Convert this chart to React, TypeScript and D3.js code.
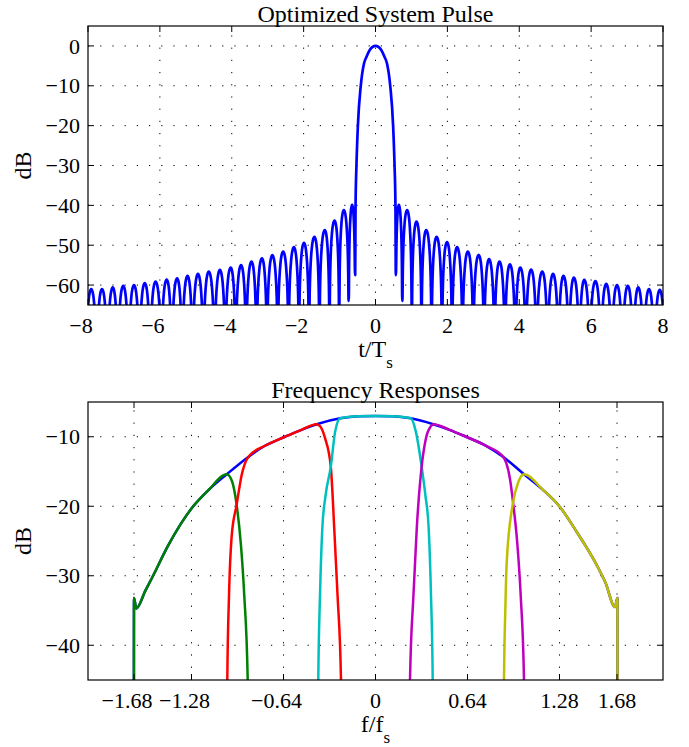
import { useEffect, useRef } from 'react'
import * as d3 from 'd3'

const WIDTH = 689
const HEIGHT = 747
const FONT = '"Liberation Serif", "Times New Roman", serif'

// ---- top panel: Optimized System Pulse ----
const pulseXTicks = [-8, -6, -4, -2, 0, 2, 4, 6, 8]
const pulseYTicks = [-60, -50, -40, -30, -20, -10, 0]
// main lobe, one side (mirrored for t < 0)
const mainLobeT = [0, 0.08, 0.16, 0.25, 0.32, 0.41, 0.49, 0.53, 0.555, 0.565]
const mainLobeDb = [0, -0.25, -1.0, -2.7, -4.4, -10, -20, -30, -40, -57.5]
// sidelobe peaks (|t|) and their levels on each side
const lobePeakT = [
  0.65, 0.88, 1.14, 1.41, 1.7, 1.99, 2.27, 2.57, 2.87, 3.16, 3.45, 3.74, 4.03,
  4.33, 4.64, 4.94, 5.23, 5.52, 5.81, 6.12, 6.42, 6.72, 7.02, 7.31, 7.61, 7.91,
]
const lobeLeftDb = [
  -39.9, -41.2, -43.8, -46.2, -47.9, -49.4, -50.5, -51.6, -52.5, -53.3, -54.1,
  -55.0, -55.6, -56.2, -56.6, -57.2, -57.7, -58.3, -58.6, -59.1, -59.5, -60.0,
  -60.2, -60.6, -61.0, -61.0,
]
const lobeRightDb = [
  -39.9, -41.2, -44.1, -46.2, -47.9, -49.2, -50.5, -51.6, -52.4, -53.5, -54.1,
  -54.8, -55.6, -56.1, -56.6, -57.2, -57.7, -58.1, -58.7, -59.0, -59.7, -60.0,
  -60.2, -60.6, -61.0, -61.2,
]
// nulls between lobes; only the first two are shallow enough to be seen
const nullT = [
  0.565, 0.745, 1.01, 1.28, 1.56, 1.85, 2.13, 2.42, 2.72, 3.02, 3.31, 3.6, 3.89,
  4.18, 4.48, 4.79, 5.09, 5.38, 5.67, 5.96, 6.27, 6.57, 6.87, 7.17, 7.46, 7.76,
  8.06,
]
const nullDb = [-57.5, -64.0]
const DEEP_NULL = -100
// shape of one sidelobe: level drop vs fraction of the way from peak to null
const lobeShapeU = [0, 0.3, 0.5, 0.7, 0.8, 0.9, 0.95, 0.98]
const lobeShapeDrop = [0, -1, -3, -6.9, -10.2, -16.1, -22.1, -30]

// ---- bottom panel: Frequency Responses ----
const freqXTicks = [-1.68, -1.28, -0.64, 0, 0.64, 1.28, 1.68]
const freqYTicks = [-40, -30, -20, -10]
// overall (blue) response
const envelopeF = [
  -1.681, -1.68, -1.664, -1.6, -1.557, -1.441, -1.279, -1.163, -1.035, -0.885,
  -0.769, -0.63, -0.515, -0.409, -0.245, -0.12, 0, 0.12, 0.245, 0.402, 0.515,
  0.63, 0.769, 0.889, 1.033, 1.163, 1.283, 1.4, 1.54, 1.6, 1.666, 1.683, 1.684,
]
const envelopeDb = [
  -60, -33.2, -34.7, -32.1, -30.4, -25.6, -20.3, -17.7, -15.4, -12.9, -11.3,
  -10.0, -9.0, -8.2, -7.35, -7.05, -7.0, -7.05, -7.35, -8.2, -9.0, -10.0, -11.3,
  -12.9, -15.4, -17.6, -20.1, -23.7, -28.5, -31.0, -34.5, -33.2, -60,
]
// sub-band filters: rising skirt, part of the envelope they follow, falling skirt
const greenRise = []
const greenBand = [-1.7, -1.035]
const greenFall = [[-1.0, -16.3], [-0.966, -19.8], [-0.936, -25.6], [-0.913, -32.8], [-0.889, -45], [-0.885, -60]]
const redRise = [[-1.034, -60], [-1.031, -45], [-1.019, -32.8], [-1.0, -24.2], [-0.966, -19.8], [-0.931, -15.5]]
const redBand = [-0.885, -0.409]
const redFall = [[-0.385, -8.5], [-0.351, -10.2], [-0.311, -14.3], [-0.287, -23.2], [-0.264, -32.8], [-0.24, -45], [-0.237, -60]]
const cyanRise = [[-0.401, -60], [-0.398, -45], [-0.386, -32.8], [-0.37, -23.2], [-0.347, -18.4], [-0.311, -14.3], [-0.281, -9.3]]
const cyanBand = [-0.245, 0.245]
const cyanFall = [[0.281, -9.3], [0.321, -14.3], [0.347, -18.4], [0.37, -23.2], [0.386, -32.8], [0.398, -45], [0.401, -60]]
const magentaRise = [[0.237, -60], [0.24, -45], [0.264, -32.8], [0.287, -23.2], [0.321, -14.3], [0.351, -10.2], [0.385, -8.5]]
const magentaBand = [0.402, 0.889]
const magentaFall = [[0.91, -13.8], [0.935, -16], [0.959, -19.8], [0.985, -25], [1.01, -32.8], [1.033, -45], [1.036, -60]]
const yellowRise = [[0.891, -60], [0.894, -45], [0.903, -35], [0.913, -28], [0.954, -19.8], [0.994, -16.5]]
const yellowBand = [1.033, 1.7]
const yellowFall = []

const minusFmt = (d) => (d < 0 ? '\u2212' + Math.abs(d) : String(d))
// MATLAB centres the digits on the tick; the minus sign hangs to the left
const MINUS_SHIFT = 7

const App = () => {
  const svgRef = useRef(null)

  useEffect(() => {
    const svg = d3.select(svgRef.current)
    svg.selectAll('*').remove()
    svg.append('rect').attr('width', WIDTH).attr('height', HEIGHT).attr('fill', '#fff')
    const defs = svg.append('defs')

    // Draws axes frame, grid, ticks and labels; returns a clipped group for the data
    function drawPanel({ id, x, y, xTicks, yTicks, title, xlab }) {
      const [x0, x1] = x.range()
      const [y0, y1] = y.range() // y0 bottom, y1 top
      defs
        .append('clipPath')
        .attr('id', id)
        .append('rect')
        .attr('x', x0)
        .attr('y', y1)
        .attr('width', x1 - x0)
        .attr('height', y0 - y1)

      const g = svg.append('g')
      // dotted grid
      const [dx0, dx1] = x.domain()
      g.selectAll('.vgrid')
        .data(xTicks.filter((t) => t !== dx0 && t !== dx1))
        .enter()
        .append('line')
        .attr('x1', (d) => x(d))
        .attr('x2', (d) => x(d))
        .attr('y1', y0)
        .attr('y2', y1)
        .attr('stroke', '#000')
        .attr('stroke-width', 1)
        .attr('stroke-dasharray', '1.2,11')
      g.selectAll('.hgrid')
        .data(yTicks)
        .enter()
        .append('line')
        .attr('x1', x0)
        .attr('x2', x1)
        .attr('y1', (d) => y(d))
        .attr('y2', (d) => y(d))
        .attr('stroke', '#000')
        .attr('stroke-width', 1)
        .attr('stroke-dasharray', '1.2,11')

      const data = svg.append('g').attr('clip-path', `url(#${id})`)

      const frame = svg.append('g')
      // inward ticks on all four sides
      xTicks.forEach((t) => {
        frame.append('line').attr('x1', x(t)).attr('x2', x(t)).attr('y1', y0).attr('y2', y0 - 6).attr('stroke', '#000')
        frame.append('line').attr('x1', x(t)).attr('x2', x(t)).attr('y1', y1).attr('y2', y1 + 6).attr('stroke', '#000')
      })
      yTicks.forEach((t) => {
        frame.append('line').attr('x1', x0).attr('x2', x0 + 6).attr('y1', y(t)).attr('y2', y(t)).attr('stroke', '#000')
        frame.append('line').attr('x1', x1).attr('x2', x1 - 6).attr('y1', y(t)).attr('y2', y(t)).attr('stroke', '#000')
      })
      frame
        .append('rect')
        .attr('x', x0)
        .attr('y', y1)
        .attr('width', x1 - x0)
        .attr('height', y0 - y1)
        .attr('fill', 'none')
        .attr('stroke', '#000')
        .attr('stroke-width', 1.2)

      const txt = svg.append('g').style('font-family', FONT).style('font-size', '22px').attr('fill', '#000')
      txt.selectAll('.xt')
        .data(xTicks)
        .enter()
        .append('text')
        .attr('x', (d) => x(d) - (d < 0 ? MINUS_SHIFT : 0))
        .attr('y', y0 + 28)
        .attr('text-anchor', 'middle')
        .text(minusFmt)
      txt.selectAll('.yt')
        .data(yTicks)
        .enter()
        .append('text')
        .attr('x', x0 - 8)
        .attr('y', (d) => y(d))
        .attr('dy', '0.35em')
        .attr('text-anchor', 'end')
        .text(minusFmt)
      const cx = (x0 + x1) / 2
      txt
        .append('text')
        .attr('x', cx)
        .attr('y', y1 - 4.5)
        .attr('text-anchor', 'middle')
        .style('font-size', '24px')
        .text(title)
      const xl = txt
        .append('text')
        .attr('x', cx)
        .attr('y', y0 + 52)
        .attr('text-anchor', 'middle')
        .style('font-size', '24px')
      xl.append('tspan').text(xlab[0])
      xl.append('tspan').attr('dy', 11).style('font-size', '17px').text(xlab[1])
      txt
        .append('text')
        .attr('transform', `translate(31, ${(y0 + y1) / 2}) rotate(-90)`)
        .attr('text-anchor', 'middle')
        .style('font-size', '24px')
        .text('dB')
      return data
    }

    // ---- top panel ----
    const xPulse = d3.scaleLinear().domain([-8, 8]).range([88, 663])
    const yPulse = d3.scaleLinear().domain([-65, 5]).range([305, 26])
    const pulseG = drawPanel({
      id: 'clip-pulse',
      x: xPulse,
      y: yPulse,
      xTicks: pulseXTicks,
      yTicks: pulseYTicks,
      title: 'Optimized System Pulse',
      xlab: ['t/T', 's'],
    })

    // one side of the pulse (t >= 0) built from main lobe and sidelobe peaks
    function pulseHalf(peakDb) {
      const pts = mainLobeT.map((t, i) => [t, mainLobeDb[i]])
      lobePeakT.forEach((p, k) => {
        const pk = peakDb[k]
        const nIn = nullT[k]
        const nOut = nullT[k + 1]
        const dIn = k < nullDb.length ? nullDb[k] : DEEP_NULL
        const dOut = k + 1 < nullDb.length ? nullDb[k + 1] : DEEP_NULL
        for (let i = lobeShapeU.length - 1; i >= 0; i--) {
          pts.push([p - (p - nIn) * lobeShapeU[i], Math.max(pk + lobeShapeDrop[i], dIn)])
        }
        for (let i = 1; i < lobeShapeU.length; i++) {
          pts.push([p + (nOut - p) * lobeShapeU[i], Math.max(pk + lobeShapeDrop[i], dOut)])
        }
        pts.push([nOut, dOut])
      })
      return pts
    }
    const rightHalf = pulseHalf(lobeRightDb)
    const leftHalf = pulseHalf(lobeLeftDb)
      .slice(1)
      .map(([t, v]) => [-t, v])
      .reverse()
    const pulse = leftHalf.concat(rightHalf)

    const pulseLine = d3
      .line()
      .x((d) => xPulse(d[0]))
      .y((d) => yPulse(d[1]))
      .curve(d3.curveMonotoneX)
    pulseG
      .append('path')
      .attr('d', pulseLine(pulse))
      .attr('fill', 'none')
      .attr('stroke', '#0000ff')
      .attr('stroke-width', 2.7)
      .attr('stroke-linejoin', 'round')

    // ---- bottom panel ----
    const xFreq = d3.scaleLinear().domain([-2, 2]).range([88, 663])
    const yFreq = d3.scaleLinear().domain([-45, -5]).range([680, 402])
    const freqG = drawPanel({
      id: 'clip-freq',
      x: xFreq,
      y: yFreq,
      xTicks: freqXTicks,
      yTicks: freqYTicks,
      title: 'Frequency Responses',
      xlab: ['f/f', 's'],
    })
    const envelope = envelopeF.map((f, i) => [f, envelopeDb[i]])
    const filters = [
      { color: '#008000', rise: greenRise, band: greenBand, fall: greenFall },
      { color: '#ff0000', rise: redRise, band: redBand, fall: redFall },
      { color: '#00bfbf', rise: cyanRise, band: cyanBand, fall: cyanFall },
      { color: '#bf00bf', rise: magentaRise, band: magentaBand, fall: magentaFall },
      { color: '#bfbf00', rise: yellowRise, band: yellowBand, fall: yellowFall },
    ]
    const freqLine = d3
      .line()
      .x((d) => xFreq(d[0]))
      .y((d) => yFreq(d[1]))
      .curve(d3.curveMonotoneX)
    const series = [{ color: '#0000ff', pts: envelope }].concat(
      filters.map((f) => ({
        color: f.color,
        pts: f.rise.concat(
          envelope.filter((p) => p[0] >= f.band[0] && p[0] <= f.band[1]),
          f.fall
        ),
      }))
    )
    freqG
      .selectAll('.resp')
      .data(series)
      .enter()
      .append('path')
      .attr('d', (d) => freqLine(d.pts))
      .attr('fill', 'none')
      .attr('stroke', (d) => d.color)
      .attr('stroke-width', 2.5)
      .attr('stroke-linejoin', 'round')
  }, [])

  return (
    <svg
      ref={svgRef}
      width={WIDTH}
      height={HEIGHT}
      style={{ position: 'absolute', left: 0, top: 0 }}
    />
  )
}

export default App
